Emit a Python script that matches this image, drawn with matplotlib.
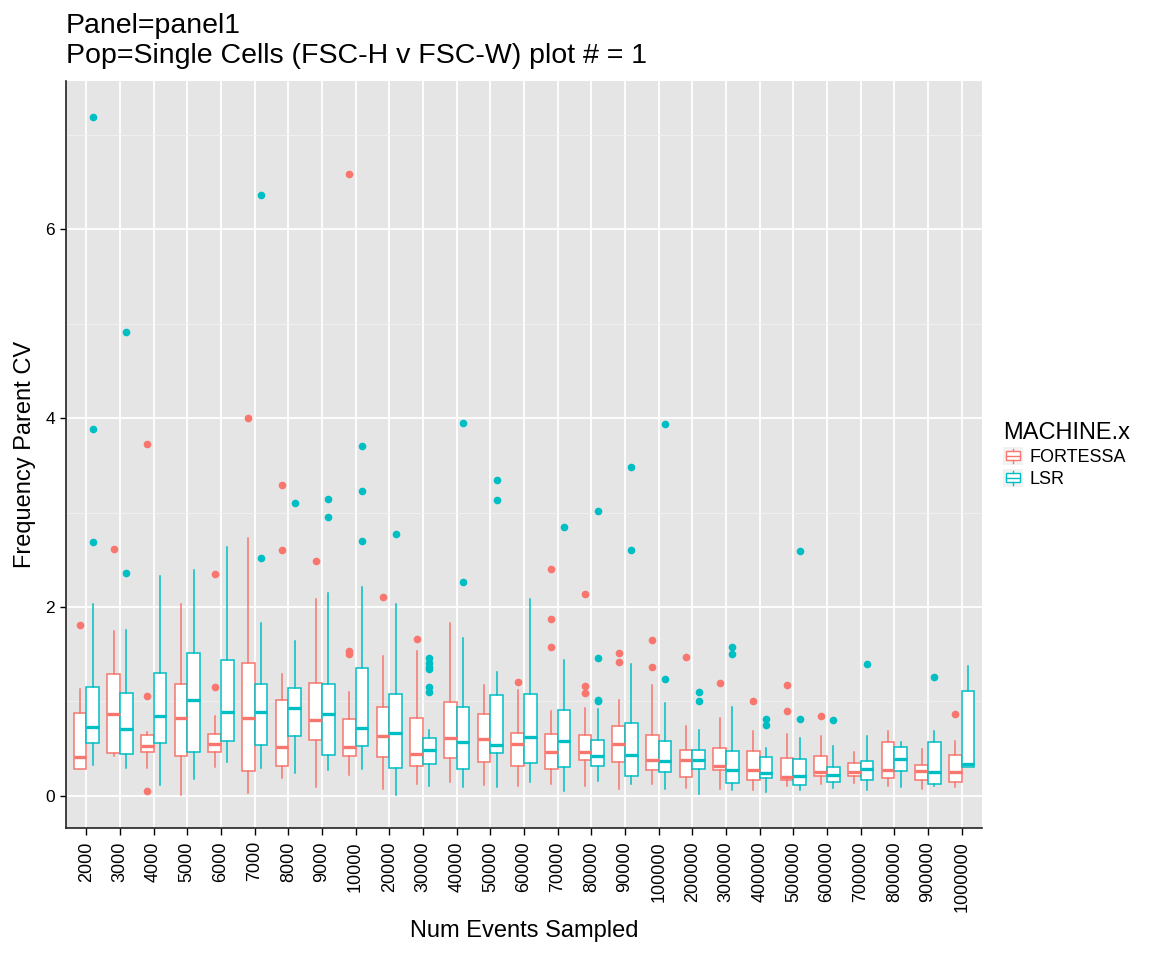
import numpy as np
import matplotlib
matplotlib.use("Agg")
import matplotlib.pyplot as plt
from matplotlib.patches import Patch, Rectangle
from matplotlib.lines import Line2D
from matplotlib.legend_handler import HandlerBase

plt.rcParams['font.family'] = ['Liberation Sans', 'DejaVu Sans']

cats = ["2000", "3000", "4000", "5000", "6000", "7000", "8000", "9000", "10000",
        "20000", "30000", "40000", "50000", "60000", "70000", "80000", "90000",
        "100000", "200000", "300000", "400000", "500000", "600000", "700000",
        "800000", "900000", "1000000"]

# FORTESSA box stats
f_lo = [0.28, 0.42, 0.30, 0.01, 0.31, 0.03, 0.19, 0.09, 0.22, 0.07, 0.13, 0.15, 0.12, 0.10,
        0.13, 0.10, 0.07, 0.13, 0.08, 0.07, 0.06, 0.10, 0.13, 0.14, 0.11, 0.07, 0.09]
f_q1 = [0.28, 0.45, 0.47, 0.42, 0.46, 0.26, 0.32, 0.59, 0.42, 0.41, 0.32, 0.40, 0.36, 0.32,
        0.28, 0.38, 0.36, 0.27, 0.20, 0.27, 0.17, 0.17, 0.21, 0.21, 0.19, 0.17, 0.15]
f_med = [0.41, 0.87, 0.53, 0.83, 0.55, 0.83, 0.52, 0.80, 0.52, 0.63, 0.44, 0.61, 0.60, 0.55,
         0.46, 0.47, 0.55, 0.38, 0.38, 0.32, 0.27, 0.20, 0.25, 0.25, 0.27, 0.26, 0.25]
f_q3 = [0.88, 1.29, 0.64, 1.19, 0.66, 1.41, 1.02, 1.20, 0.81, 0.94, 0.82, 0.99, 0.87, 0.67,
        0.66, 0.64, 0.74, 0.64, 0.49, 0.51, 0.48, 0.40, 0.42, 0.35, 0.57, 0.33, 0.43]
f_hi = [1.13, 1.75, 0.68, 2.03, 0.85, 2.73, 1.29, 2.08, 1.10, 1.48, 1.53, 1.83, 1.17, 1.12,
        0.90, 0.93, 1.02, 1.17, 0.74, 0.83, 0.69, 0.66, 0.63, 0.46, 0.69, 0.50, 0.58]
f_out = [[1.81], [2.61], [1.06, 0.05, 3.73], [], [1.15, 2.35], [4.00], [2.60, 3.29], [2.49],
         [1.50, 1.53, 6.59], [2.11], [1.66], [], [], [1.21], [1.58, 1.87, 2.40],
         [1.09, 1.16, 2.14], [1.42, 1.51], [1.37, 1.65], [1.47], [1.20], [1.01], [0.90, 1.17],
         [0.85], [], [], [], [0.87]]

# LSR box stats
l_lo = [0.33, 0.30, 0.12, 0.18, 0.36, 0.30, 0.24, 0.27, 0.29, 0.01, 0.10, 0.09, 0.09, 0.15,
        0.05, 0.16, 0.13, 0.07, 0.02, 0.06, 0.04, 0.06, 0.08, 0.06, 0.09, 0.10, 0.31]
l_q1 = [0.56, 0.44, 0.56, 0.46, 0.58, 0.54, 0.63, 0.43, 0.53, 0.30, 0.34, 0.29, 0.45, 0.35,
        0.31, 0.32, 0.21, 0.25, 0.28, 0.14, 0.19, 0.12, 0.15, 0.17, 0.26, 0.13, 0.31]
l_med = [0.73, 0.71, 0.85, 1.02, 0.89, 0.89, 0.93, 0.87, 0.72, 0.67, 0.49, 0.57, 0.54, 0.62,
         0.58, 0.42, 0.43, 0.37, 0.38, 0.27, 0.24, 0.21, 0.22, 0.29, 0.39, 0.25, 0.34]
l_q3 = [1.15, 1.09, 1.30, 1.51, 1.44, 1.19, 1.14, 1.18, 1.35, 1.08, 0.61, 0.94, 1.07, 1.08,
        0.91, 0.59, 0.77, 0.58, 0.49, 0.48, 0.41, 0.39, 0.31, 0.37, 0.52, 0.57, 1.11]
l_hi = [2.03, 1.76, 2.33, 2.39, 2.64, 1.83, 1.64, 2.15, 2.21, 2.03, 0.70, 1.67, 1.31, 2.09,
        1.44, 0.92, 1.40, 0.98, 0.70, 0.94, 0.51, 0.61, 0.53, 0.63, 0.57, 0.69, 1.38]
l_out = [[2.69, 3.89, 7.19], [2.36, 4.91], [], [], [], [2.52, 6.36], [3.10], [2.95, 3.14],
         [2.70, 3.23, 3.70], [2.77], [1.10, 1.15, 1.34, 1.37, 1.41, 1.46], [2.26, 3.95],
         [3.13, 3.35], [], [2.85], [1.00, 1.02, 1.46, 3.02], [2.60, 3.48], [1.24, 3.94],
         [1.01, 1.10], [1.50, 1.58], [0.75, 0.81], [0.81, 2.59], [0.80], [1.40], [], [1.26], []]

groups = ["FORTESSA", "LSR"]
colors = ["#F8766D", "#00BFC4"]


def make_stats(lo, q1, med, q3, hi, out):
    return [dict(whislo=a, q1=b, med=c, q3=d, whishi=e, fliers=f)
            for a, b, c, d, e, f in zip(lo, q1, med, q3, hi, out)]


class BoxKeyHandler(HandlerBase):
    # small boxplot glyph like the ggplot legend key
    def create_artists(self, legend, orig_handle, xdescent, ydescent, width, height, fontsize, trans):
        col = orig_handle.get_edgecolor()
        x0 = -xdescent
        y0 = -ydescent
        bg = Rectangle((x0, y0), width, height, facecolor="#F2F2F2", edgecolor="none", transform=trans)
        box = Rectangle((x0 + 0.15 * width, y0 + 0.25 * height), 0.7 * width, 0.5 * height,
                        facecolor="white", edgecolor=col, lw=1.0, transform=trans)
        xc = x0 + width / 2
        med = Line2D([x0 + 0.15 * width, x0 + 0.85 * width], [y0 + height / 2] * 2, color=col, lw=1.0, transform=trans)
        w1 = Line2D([xc, xc], [y0 + 0.1 * height, y0 + 0.25 * height], color=col, lw=1.0, transform=trans)
        w2 = Line2D([xc, xc], [y0 + 0.75 * height, y0 + 0.9 * height], color=col, lw=1.0, transform=trans)
        return [bg, box, med, w1, w2]


fig = plt.figure(figsize=(11.52, 9.6), dpi=100)
ax = fig.add_axes([66 / 1152, 1 - 828 / 960, (982 - 66) / 1152, (828 - 81) / 960])
ax.set_facecolor("#E5E5E5")

pos = np.arange(1, len(cats) + 1)
bw = 0.375
all_stats = [make_stats(f_lo, f_q1, f_med, f_q3, f_hi, f_out),
             make_stats(l_lo, l_q1, l_med, l_q3, l_hi, l_out)]
for i, (stats, col) in enumerate(zip(all_stats, colors)):
    offs = pos + (i - 0.5) * bw
    ax.bxp(stats, positions=offs, widths=bw, patch_artist=True, showcaps=False,
           boxprops=dict(facecolor="white", edgecolor=col, lw=1.1),
           whiskerprops=dict(color=col, lw=1.1),
           medianprops=dict(color=col, lw=2.4, solid_capstyle="butt"),
           flierprops=dict(marker="o", markerfacecolor=col, markeredgecolor=col, markersize=4.5),
           manage_ticks=False, zorder=3)

ax.set_xlim(0.4, len(cats) + 0.6)
ax.set_ylim(-0.34, 7.57)
ax.set_xticks(pos)
ax.set_xticklabels(cats, rotation=90, fontsize=13)
ax.set_yticks([0, 2, 4, 6])
ax.set_yticks([1, 3, 5, 7], minor=True)
ax.tick_params(axis="y", labelsize=12.5, length=4.5, width=1, pad=3.5)
ax.tick_params(axis="x", length=5, width=1, pad=4.5)
ax.tick_params(axis="y", which="minor", length=0)
ax.grid(True, which="major", color="white", lw=1.3, zorder=0)
ax.grid(True, which="minor", axis="y", color="#F2F2F2", lw=0.6, zorder=0)
ax.set_axisbelow(True)
for s in ["top", "right"]:
    ax.spines[s].set_visible(False)
for s in ["left", "bottom"]:
    ax.spines[s].set_linewidth(1.2)
    ax.spines[s].set_color("#222222")

ax.set_xlabel("Num Events Sampled", fontsize=17, labelpad=6)
ax.set_ylabel("Frequency Parent CV", fontsize=17, labelpad=7)

fig.text(66 / 1152, 1 - 13 / 960, "Panel=panel1\nPop=Single Cells (FSC-H v FSC-W) plot # = 1",
         ha="left", va="top", fontsize=20.5, linespacing=1.2)

handles = [Patch(facecolor="white", edgecolor=c) for c in colors]
leg = fig.legend(handles, groups, loc="center left", bbox_to_anchor=(996 / 1152, 1 - 455 / 960),
                 frameon=False, title="MACHINE.x", fontsize=13, title_fontsize=17,
                 handler_map={Patch: BoxKeyHandler()}, handlelength=1.1, handleheight=1.15,
                 handletextpad=0.35, labelspacing=0.15, alignment="left", borderaxespad=0)

fig.savefig("out.png", dpi=100)
